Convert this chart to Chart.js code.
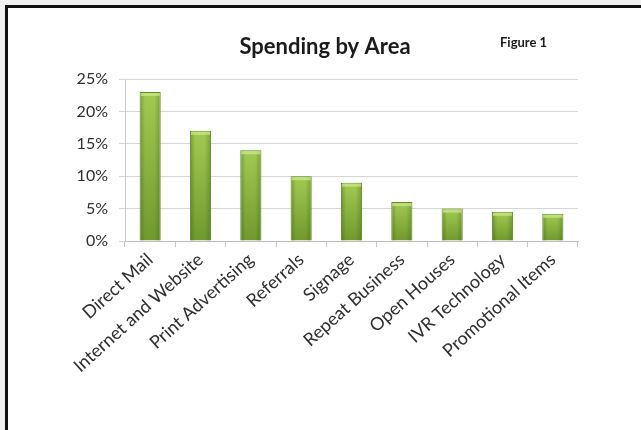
<!DOCTYPE html>
<html>
<head>
<meta charset="utf-8">
<script src="https://cdn.jsdelivr.net/npm/chart.js@4/dist/chart.umd.min.js"></script>
<style>
	html, body { margin: 0; padding: 0; background: #f1f1f1; }
	#frame {
		position: absolute; left: 5px; top: 5px; width: 636px; height: 425px;
		background: #fff; border-left: 3px solid #111; border-top: 3px solid #111;
		box-sizing: border-box;
	}
	#wrap { position: absolute; left: 0; top: 0; width: 641px; height: 430px; }
</style>
</head>
<body>
<div id="frame"></div>
<div id="wrap"><canvas id="miGrafico"></canvas></div>
<script>
const categories = ["Direct Mail", "Internet and Website", "Print Advertising", "Referrals", "Signage", "Repeat Business", "Open Houses", "IVR Technology", "Promotional Items"];
const spending = [0.23, 0.17, 0.14, 0.10, 0.09, 0.06, 0.05, 0.045, 0.042];
const yTicks = [0, 0.05, 0.10, 0.15, 0.20, 0.25];
const chartTitle = "Spending by Area";
const figureLabel = "Figure 1";

const FONT = "Lato, 'Liberation Sans', sans-serif";

// titles drawn at fixed spots like the Excel original
const titlePlugin = {
	id: "titles",
	afterDraw(chart) {
		const ctx = chart.ctx;
		ctx.save();
		ctx.fillStyle = "#1a1a1a";
		ctx.textBaseline = "alphabetic";
		ctx.textAlign = "center";
		ctx.font = "bold 22px " + FONT;
		ctx.fillText(chartTitle, 325, 54);
		ctx.textAlign = "left";
		ctx.font = "bold 13px " + FONT;
		ctx.fillText(figureLabel, 500, 47);
		ctx.restore();
	},
};

// rounded shading on each bar: darker sides and a light cap
const shadePlugin = {
	id: "shade",
	afterDatasetsDraw(chart) {
		const ctx = chart.ctx;
		chart.getDatasetMeta(0).data.forEach((bar) => {
			const left = bar.x - bar.width / 2;
			const right = bar.x + bar.width / 2;
			const top = bar.y;
			const h = bar.base - bar.y;
			const g = ctx.createLinearGradient(left, 0, right, 0);
			g.addColorStop(0, "rgba(40,70,10,0.35)");
			g.addColorStop(0.25, "rgba(40,70,10,0.0)");
			g.addColorStop(0.7, "rgba(40,70,10,0.0)");
			g.addColorStop(1, "rgba(40,70,10,0.3)");
			ctx.save();
			ctx.fillStyle = g;
			ctx.fillRect(left + 1, top + 1, right - left - 2, h - 1);
			ctx.fillStyle = "rgba(205,235,140,0.7)";
			ctx.fillRect(left + 1, top + 1, right - left - 2, 3);
			ctx.restore();
		});
	},
};

function barFill(context) {
	const chart = context.chart;
	const area = chart.chartArea;
	const y = chart.scales.y;
	if (!area || !y) return "#8fb843";
	const top = y.getPixelForValue(context.raw);
	const g = chart.ctx.createLinearGradient(0, top, 0, area.bottom);
	g.addColorStop(0, "#a2ca52");
	g.addColorStop(1, "#70992e");
	return g;
}

function initGrafico() {
	const ctx = document.getElementById("miGrafico");
	new Chart(ctx, {
		type: "bar",
		data: {
			labels: categories,
			datasets: [
				{
					label: "Spending",
					data: spending,
					backgroundColor: barFill,
					borderColor: "#5f8a25",
					borderWidth: 1,
					barPercentage: 0.42,
					categoryPercentage: 1,
				},
			],
		},
		options: {
			responsive: false,
			animation: false,
			devicePixelRatio: 1,
			layout: { padding: { top: 79, right: 63, bottom: 0, left: 0 } },
			plugins: {
				legend: { display: false },
				title: { display: false },
				tooltip: { enabled: false },
			},
			scales: {
				x: {
					afterFit(scale) { scale.height = 189; },
					grid: {
						offset: true,
						drawOnChartArea: false,
						tickLength: 6,
						color: "#c8c8c8",
					},
					border: { color: "#bdbdbd" },
					ticks: {
						minRotation: 42,
						maxRotation: 42,
						padding: 2,
						color: "#2e2e2e",
						font: { family: FONT, size: 18 },
					},
				},
				y: {
					min: 0,
					max: 0.25,
					afterFit(scale) { scale.width = 125; },
					afterBuildTicks(scale) {
						scale.ticks = yTicks.map((v) => ({ value: v }));
					},
					grid: { color: "#d6d6d6", tickLength: 6 },
					border: { color: "#c8c8c8" },
					ticks: {
						padding: 11,
						color: "#2e2e2e",
						font: { family: FONT, size: 16 },
						callback: (v) => Math.round(v * 100) + "%",
					},
				},
			},
		},
		plugins: [shadePlugin, titlePlugin],
	});
}

const c = document.getElementById("miGrafico");
c.width = 641;
c.height = 430;
initGrafico();
</script>
</body>
</html>
